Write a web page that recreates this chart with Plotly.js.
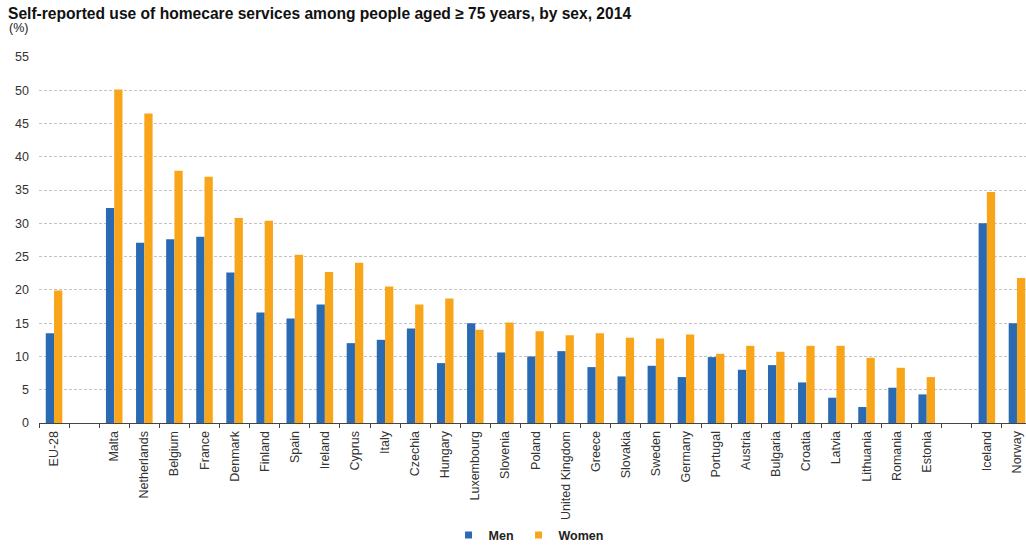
<!DOCTYPE html>
<html>
<head>
<meta charset="utf-8">
<script src="https://cdn.plot.ly/plotly-3.0.1.min.js"></script>
<style>
  html, body { margin: 0; padding: 0; background: #ffffff; }
  #chart { width: 1026px; height: 547px; }
</style>
</head>
<body>
<div id="chart"></div>
<script>
// Country groups; the two blank entries are spacer slots between the groups
const categories = ["EU-28", " ", "Malta", "Netherlands", "Belgium", "France", "Denmark", "Finland",
  "Spain", "Ireland", "Cyprus", "Italy", "Czechia", "Hungary", "Luxembourg", "Slovenia", "Poland",
  "United Kingdom", "Greece", "Slovakia", "Sweden", "Germany", "Portugal", "Austria", "Bulgaria",
  "Croatia", "Latvia", "Lithuania", "Romania", "Estonia", "  ", "Iceland", "Norway"];

// Share of people aged 75+ using homecare services (%)
const men = [13.5, null, 32.3, 27.1, 27.6, 28.0, 22.6, 16.6, 15.7, 17.8, 12.0, 12.5, 14.2, 9.0, 15.0,
  10.6, 10.0, 10.8, 8.4, 7.0, 8.6, 6.9, 9.9, 8.0, 8.7, 6.1, 3.8, 2.4, 5.3, 4.3, null, 30.0, 15.0];
const women = [19.9, null, 50.1, 46.5, 37.9, 37.0, 30.8, 30.4, 25.3, 22.7, 24.1, 20.5, 17.8, 18.7, 14.0,
  15.1, 13.8, 13.2, 13.5, 12.8, 12.7, 13.3, 10.4, 11.6, 10.7, 11.6, 11.6, 9.8, 8.3, 6.9, null, 34.7, 21.8];

const yTicks = [0, 5, 10, 15, 20, 25, 30, 35, 40, 45, 50, 55];
const seriesNames = ["Men", "Women"];

const BLUE = "#2a6ab3";
const ORANGE = "#f9a51a";
const FONT = "Liberation Sans, Arial, sans-serif";

const traces = [
  { type: "bar", name: seriesNames[0], x: categories, y: men, marker: { color: BLUE },
    hoverinfo: "skip", showlegend: false },
  { type: "bar", name: seriesNames[1], x: categories, y: women, marker: { color: ORANGE },
    hoverinfo: "skip", showlegend: false },
  // Legend keys with small square swatches
  { type: "scatter", mode: "markers", name: seriesNames[0], x: [null], y: [null],
    marker: { symbol: "square", size: 7, color: BLUE }, hoverinfo: "skip" },
  { type: "scatter", mode: "markers", name: seriesNames[1], x: [null], y: [null],
    marker: { symbol: "square", size: 7, color: ORANGE }, hoverinfo: "skip" }
];

const layout = {
  width: 1026,
  height: 547,
  margin: { l: 39.3, r: 0, t: 56.7, b: 123.7, pad: 0, autoexpand: false },
  paper_bgcolor: "#ffffff",
  plot_bgcolor: "#ffffff",
  font: { family: FONT, size: 12.5, color: "#333333" },
  title: {
    text: "Self-reported use of homecare services among people aged \u2265 75 years, by sex, 2014",
    font: { family: FONT, size: 15.6, color: "#111111", weight: "bold" },
    xref: "container", yref: "container",
    x: 8 / 1026, xanchor: "left",
    y: 1 - 14 / 547, yanchor: "middle"
  },
  barmode: "group",
  bargap: 0.45,
  bargroupgap: 0,
  showlegend: true,
  legend: {
    orientation: "h",
    x: 0.496, xanchor: "center",
    y: -0.307, yanchor: "middle",
    font: { family: FONT, size: 12.5, color: "#222222", weight: "bold" },
    itemwidth: 30,
    bgcolor: "rgba(0,0,0,0)"
  },
  xaxis: {
    type: "category",
    categoryorder: "array",
    categoryarray: categories,
    range: [-0.5, 32.3],
    tickangle: -90,
    ticks: "outside",
    tickson: "boundaries",
    ticklen: 4,
    tickcolor: "#444444",
    ticklabelstandoff: 2,
    showline: true,
    linecolor: "#444444",
    linewidth: 1,
    showgrid: false,
    zeroline: false,
    automargin: false,
    tickfont: { family: FONT, size: 12.5, color: "#333333" },
    fixedrange: true
  },
  yaxis: {
    range: [0, 55],
    tickvals: yTicks,
    ticktext: yTicks.map(String),
    showgrid: true,
    gridcolor: "#c4c4c4",
    griddash: "3px,2px",
    gridwidth: 1,
    zeroline: false,
    showline: false,
    ticks: "",
    ticklabelstandoff: 9,
    automargin: false,
    tickfont: { family: FONT, size: 12.5, color: "#333333" },
    fixedrange: true
  },
  annotations: [
    {
      text: "(%)",
      xref: "paper", yref: "paper",
      x: (7 - 39.3) / 986.7, xanchor: "left",
      y: (423.3 - 28) / 366.6, yanchor: "middle",
      showarrow: false,
      font: { family: FONT, size: 12.5, color: "#222222" }
    }
  ]
};

Plotly.newPlot("chart", traces, layout, { staticPlot: true, displayModeBar: false });
</script>
</body>
</html>
